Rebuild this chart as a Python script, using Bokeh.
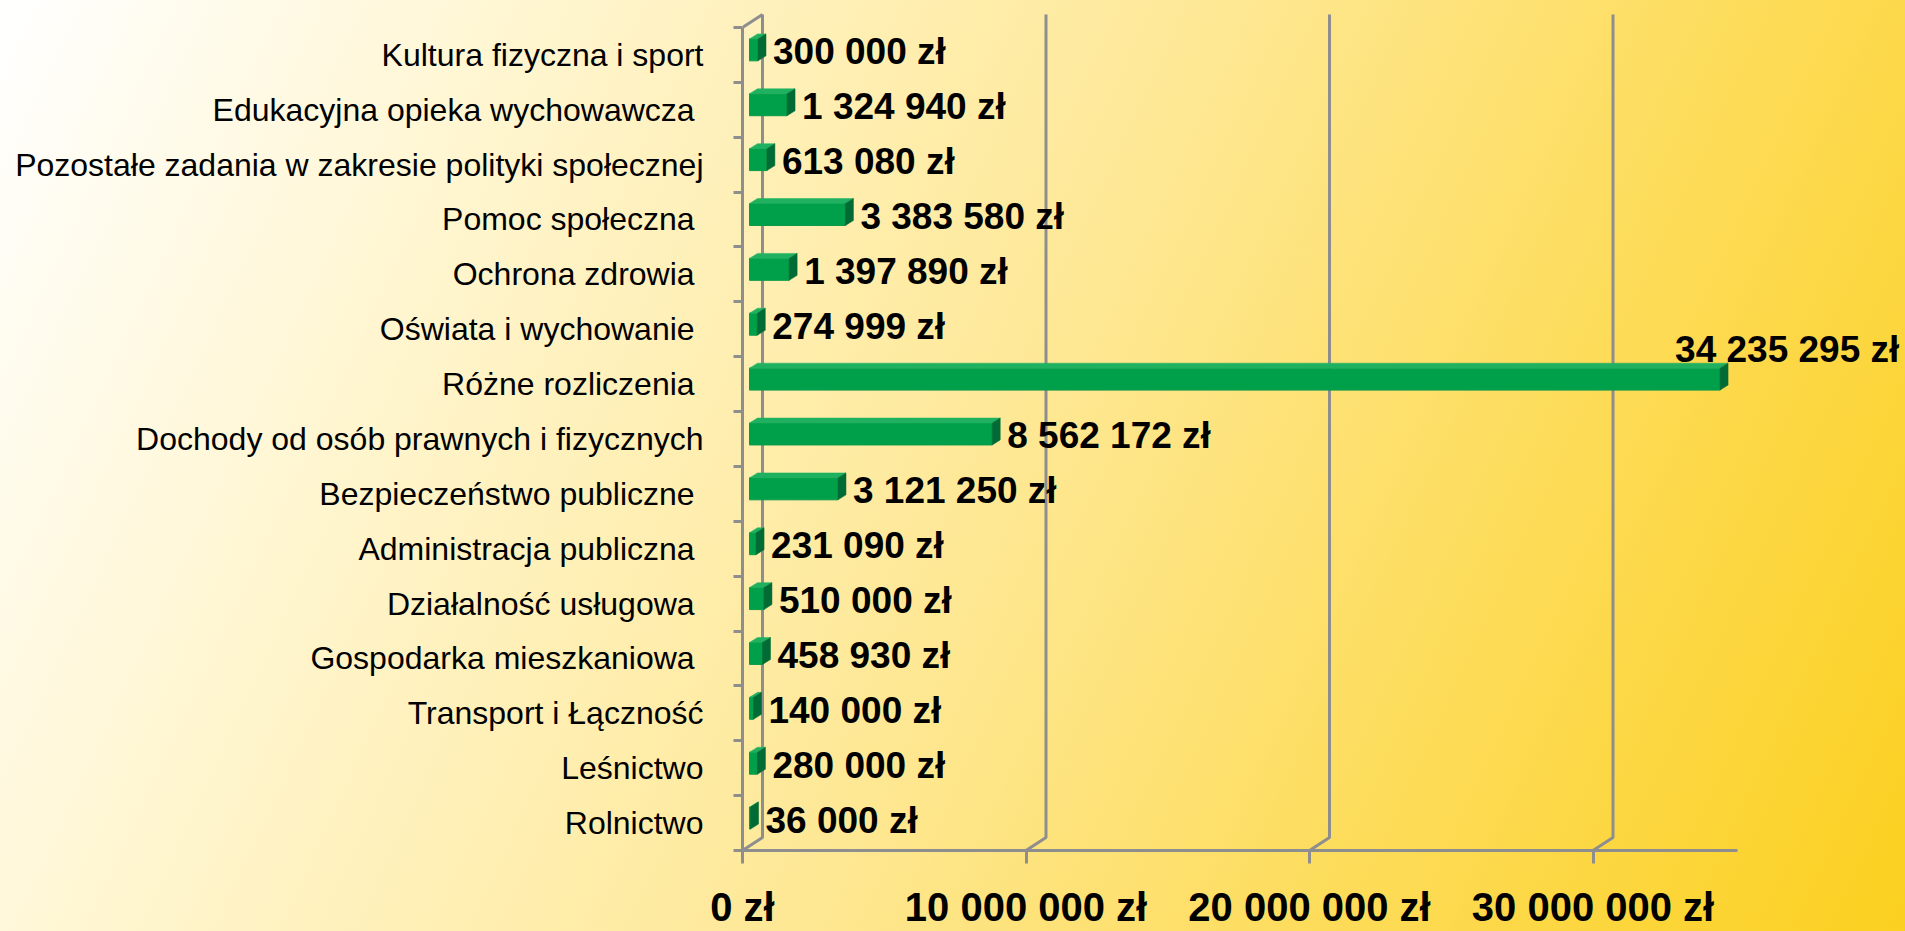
from bokeh.plotting import figure
from bokeh.models import Range1d, FixedTicker, ColumnDataSource
from bokeh.core.properties import value
from bokeh.embed import file_html
from bokeh.resources import INLINE

# ---- data (top to bottom as in the chart) ----
categories = [
    "Kultura fizyczna i sport",
    "Edukacyjna opieka wychowawcza ",
    "Pozostałe zadania w zakresie polityki społecznej",
    "Pomoc społeczna ",
    "Ochrona zdrowia ",
    "Oświata i wychowanie ",
    "Różne rozliczenia ",
    "Dochody od osób prawnych i fizycznych",
    "Bezpieczeństwo publiczne ",
    "Administracja publiczna ",
    "Działalność usługowa ",
    "Gospodarka mieszkaniowa ",
    "Transport i Łączność",
    "Leśnictwo",
    "Rolnictwo",
]
amounts = [300000, 1324940, 613080, 3383580, 1397890, 274999, 34235295,
           8562172, 3121250, 231090, 510000, 458930, 140000, 280000, 36000]
x_ticks = [0, 10000000, 20000000, 30000000]
x_tick_labels = ["0 zł", "10 000 000 zł", "20 000 000 zł", "30 000 000 zł"]

# ---- layout ----
W, H = 1905, 931
LEFT, BOTTOM = 742, 79
FRAME_W, FRAME_H = W - LEFT, H - BOTTOM
PX_X = 283.5 / 1e7     # px per zł
PX_Y = 55.0            # px per category band
ux, uy = 1 / PX_X, 1 / PX_Y
GRAY = "#8e8e8e"
FONT = value("Liberation Sans")

n = len(categories)
ypos = [n - 1 - i for i in range(n)]

p = figure(width=W, height=H, output_backend="svg", toolbar_location=None,
           x_range=Range1d(0, FRAME_W * ux), y_range=Range1d(-0.5, -0.5 + FRAME_H * uy),
           min_border_left=LEFT, min_border_bottom=BOTTOM, min_border_top=0, min_border_right=0)
p.background_fill_color = None
p.border_fill_color = None
p.outline_line_color = None
p.styles = {"background": "linear-gradient(115deg, #ffffff 0%, #fff6d2 22%, #fee99a 50%, #fddc5a 75%, #fbd01f 100%)"}
p.xgrid.visible = False
p.ygrid.visible = False

# back wall / gridlines (3D look)
top_back = -0.5 + 838 * uy
gx, gy = [], []
for t in x_ticks:
    gx.append([t, t + 20 * ux, t + 20 * ux])
    gy.append([-0.5, -0.5 + 13 * uy, top_back])
gx.append([0, 20 * ux])
gy.append([n - 0.5, n - 0.5 + 13 * uy])
p.multi_line(gx, gy, line_color=GRAY, line_width=3)

# bars
fx0, fx1, fb, ft = [], [], [], []
top_xs, top_ys, side_xs, side_ys = [], [], [], []
for v, y in zip(amounts, ypos):
    x0 = 7 * ux
    x1 = v + 7 * ux
    yc = y + 5 * uy
    h = 11 * uy
    fx0.append(x0); fx1.append(x1); fb.append(yc - h); ft.append(yc + h)
    top_xs.append([x0, x1, x1 + 8 * ux, x0 + 8 * ux])
    top_ys.append([yc + h, yc + h, yc + h + 5 * uy, yc + h + 5 * uy])
    side_xs.append([x1, x1 + 8 * ux, x1 + 8 * ux, x1])
    side_ys.append([yc - h, yc - h + 5 * uy, yc + h + 5 * uy, yc + h])
p.quad(left=fx0, right=fx1, bottom=fb, top=ft, fill_color="#00a04b", line_color="#0a9a4a", line_width=1)
p.patches(top_xs, top_ys, fill_color="#1fb160", line_color="#1fb160", line_width=0.5)
p.patches(side_xs, side_ys, fill_color="#006b34", line_color="#006b34", line_width=0.5)

# value labels
mx = max(amounts)
lab = [f"{v:,}".replace(",", " ") + " zł" for v in amounts]
xo = [-38 if v == mx else 22 for v in amounts]
yo = [-35 if v == mx else -3 for v in amounts]
src = ColumnDataSource(dict(x=amounts, y=ypos, t=lab, xo=xo, yo=yo))
p.text(x="x", y="y", text="t", x_offset="xo", y_offset="yo", source=src,
       text_font=FONT, text_font_style="bold", text_font_size="37px",
       text_color="black", text_baseline="middle", text_align="left")

# y axis (categories)
ya = p.yaxis[0]
ya.ticker = FixedTicker(ticks=ypos, minor_ticks=[k - 0.5 for k in range(n + 1)])
ya.major_label_overrides = {y: c for y, c in zip(ypos, categories)}
ya.bounds = (-0.5, n - 0.5)
ya.axis_line_color = GRAY
ya.axis_line_width = 3
ya.major_tick_out = 0
ya.major_tick_in = 0
ya.minor_tick_out = 9
ya.minor_tick_in = 0
ya.minor_tick_line_color = GRAY
ya.minor_tick_line_width = 3
ya.major_label_standoff = 30
ya.major_label_text_font = "Liberation Sans"
ya.major_label_text_font_size = "32px"
ya.major_label_text_color = "black"

# x axis
xa = p.xaxis[0]
xa.ticker = FixedTicker(ticks=x_ticks, minor_ticks=[])
xa.major_label_overrides = {t: s for t, s in zip(x_ticks, x_tick_labels)}
xa.bounds = (0, 35.1e6)
xa.axis_line_color = GRAY
xa.axis_line_width = 3
xa.major_tick_out = 13
xa.major_tick_in = 0
xa.major_tick_line_color = GRAY
xa.major_tick_line_width = 3
xa.minor_tick_line_color = None
xa.major_label_standoff = 21
xa.major_label_text_font = "Liberation Sans"
xa.major_label_text_font_style = "bold"
xa.major_label_text_font_size = "40px"
xa.major_label_text_color = "black"

open("out.html", "w").write(file_html(p, INLINE))
